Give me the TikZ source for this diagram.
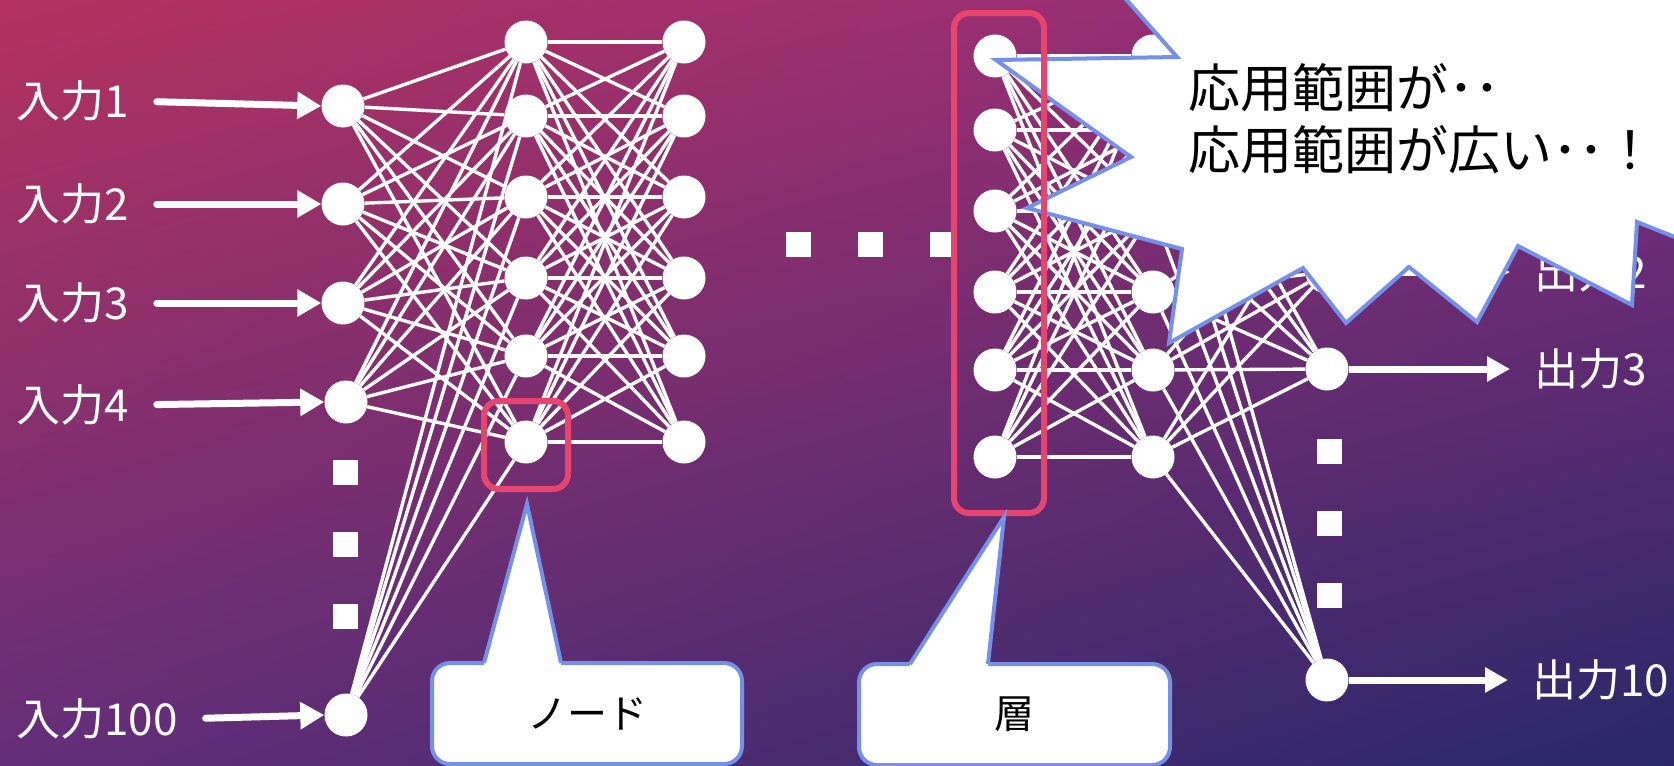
\documentclass[tikz,border=0pt]{standalone}
\usepackage{fontspec}
\setmainfont{Noto Sans CJK JP}
\usetikzlibrary{arrows.meta,shadings}
\definecolor{redbox}{RGB}{232,68,112}
\definecolor{bluel}{RGB}{116,144,232}
\definecolor{bgUL}{RGB}{180,50,95}
\definecolor{bgUR}{RGB}{138,45,125}
\definecolor{bgLL}{RGB}{100,46,122}
\definecolor{bgLR}{RGB}{40,40,104}
\begin{document}
\begin{tikzpicture}[x=1pt,y=-1pt,
  neuron/.style={circle,fill=white,minimum size=43pt,inner sep=0pt},
  sq/.style={rectangle,fill=white,minimum width=25pt,minimum height=25pt,inner sep=0pt},
  link/.style={white,line width=3.4pt},
  lbl/.style={text=white,font=\fontsize{44}{50}\selectfont,inner sep=0pt},
  inarr/.style={white,line width=7pt,line cap=round,shorten <=28pt,-{Triangle[length=24pt,width=26pt]}},
  outarr/.style={white,line width=7pt,shorten >=24pt,-{Triangle[length=23pt,width=24pt]}},
  redb/.style={draw=redbox,line width=6pt,rounded corners=15pt,inner sep=0pt},
  callbox/.style={draw=bluel,line width=4pt,fill=white,rounded corners=18pt,inner sep=0pt,text=black,font=\fontsize{40}{48}\selectfont},
  blueline/.style={draw=bluel,line width=4pt},
  bubble/.style={fill=white,draw=bluel,line width=4pt}
]
\useasboundingbox (0,0) rectangle (1674,766);
\clip (0,0) rectangle (1674,766);
\shade[upper left=bgUL,upper right=bgUR,lower left=bgLL,lower right=bgLR] (0,0) rectangle (1674,766);

% input layer
\node[neuron] (in1) at (343,106) {};
\node[neuron] (in2) at (343,204) {};
\node[neuron] (in3) at (343,303) {};
\node[neuron] (in4) at (346,402) {};
\node[neuron] (in100) at (346,715) {};
% hidden layers
\foreach \n/\y in {1/42,2/116,3/197,4/278,5/356,6/442}{
  \node[neuron] (a\n) at (526,\y) {};
  \node[neuron] (b\n) at (684,\y) {};
}
\foreach \n/\y in {1/56,2/130,3/211,4/292,5/370,6/457}{
  \node[neuron] (c\n) at (995,\y) {};
  \node[neuron] (d\n) at (1153,\y) {};
}
% output layer
\node[neuron] (o1) at (1327,175) {};
\node[neuron] (o2) at (1327,272) {};
\node[neuron] (o3) at (1327,369) {};
\node[neuron] (o10) at (1327,680) {};

% connections
\foreach \i in {in1,in2,in3,in4,in100}{\foreach \j in {1,...,6}{\draw[link] (\i) -- (a\j);}}
\foreach \i in {1,...,6}{\foreach \j in {1,...,6}{\draw[link] (a\i) -- (b\j); \draw[link] (c\i) -- (d\j);}}
\foreach \i in {1,...,6}{\foreach \j in {o1,o2,o3,o10}{\draw[link] (d\i) -- (\j);}}

% ellipsis dots
\node[sq] (vd1) at (345,472) {};
\node[sq] (vd2) at (345,544) {};
\node[sq] (vd3) at (345,616) {};
\node[sq] (hd1) at (798,244) {};
\node[sq] (hd2) at (870,244) {};
\node[sq] (hd3) at (942,244) {};
\node[sq] (od1) at (1329,451) {};
\node[sq] (od2) at (1329,523) {};
\node[sq] (od3) at (1329,595) {};

% input labels and arrows
\node[lbl,anchor=west] (l1) at (16,101) {入力1};
\node[lbl,anchor=west] (l2) at (16,204) {入力2};
\node[lbl,anchor=west] (l3) at (16,303) {入力3};
\node[lbl,anchor=west] (l4) at (16,405) {入力4};
\node[lbl,anchor=west] (l100) at (16,719) {入力100};
\draw[inarr] (l1.east) -- (in1.west);
\draw[inarr] (l2.east) -- (in2.west);
\draw[inarr] (l3.east) -- (in3.west);
\draw[inarr] (l4.east) -- (in4.west);
\draw[inarr] (l100.east) -- (in100.west);

% output labels and arrows
\node[lbl,anchor=west] (q2) at (1534,272) {出力2};
\node[lbl,anchor=west] (q3) at (1534,369) {出力3};
\node[lbl,anchor=west] (q10) at (1532,680) {出力10};
\draw[outarr] (o2.east) -- (q2.west);
\draw[outarr] (o3.east) -- (q3.west);
\draw[outarr] (o10.east) -- (q10.west);

% explosion bubble
\filldraw[bubble] (1109,-20) -- (1177,57) -- (996,60) -- (1131,157) -- (1027,208)
  -- (1182,249) -- (1169,343) -- (1303,268) -- (1346,323) -- (1409,267)
  -- (1477,322) -- (1518,246) -- (1632,305) -- (1637,222) -- (1700,247)
  -- (1700,-20) -- cycle;
\node[anchor=west,inner sep=0pt,align=left,font=\fontsize{52}{62}\selectfont] (bt) at (1188,119)
  {応用範囲が･･\\応用範囲が広い･･！};

% highlight boxes
\node[redb,minimum width=84pt,minimum height=88pt] (hlnode) at (526,445) {};
\node[redb,minimum width=90pt,minimum height=500pt] (hllayer) at (999,263) {};

% callouts
\node[callbox,minimum width=310pt,minimum height=101pt] (cbnode) at (587,713.5) {ノード};
\coordinate (t1a) at (484,663);
\coordinate (t1b) at (527,504);
\coordinate (t1c) at (561,663);
\fill[white] (t1a) -- (t1b) -- (t1c) -- (561,667) -- (484,667) -- cycle;
\draw[blueline] (t1a) -- (t1b) -- (t1c);

\node[callbox,minimum width=311pt,minimum height=101pt] (cblayer) at (1014.5,714.5) {層};
\coordinate (t2a) at (910,664);
\coordinate (t2b) at (1004,517);
\coordinate (t2c) at (988,664);
\fill[white] (t2a) -- (t2b) -- (t2c) -- (988,668) -- (910,668) -- cycle;
\draw[blueline] (t2a) -- (t2b) -- (t2c);
\end{tikzpicture}
\end{document}
